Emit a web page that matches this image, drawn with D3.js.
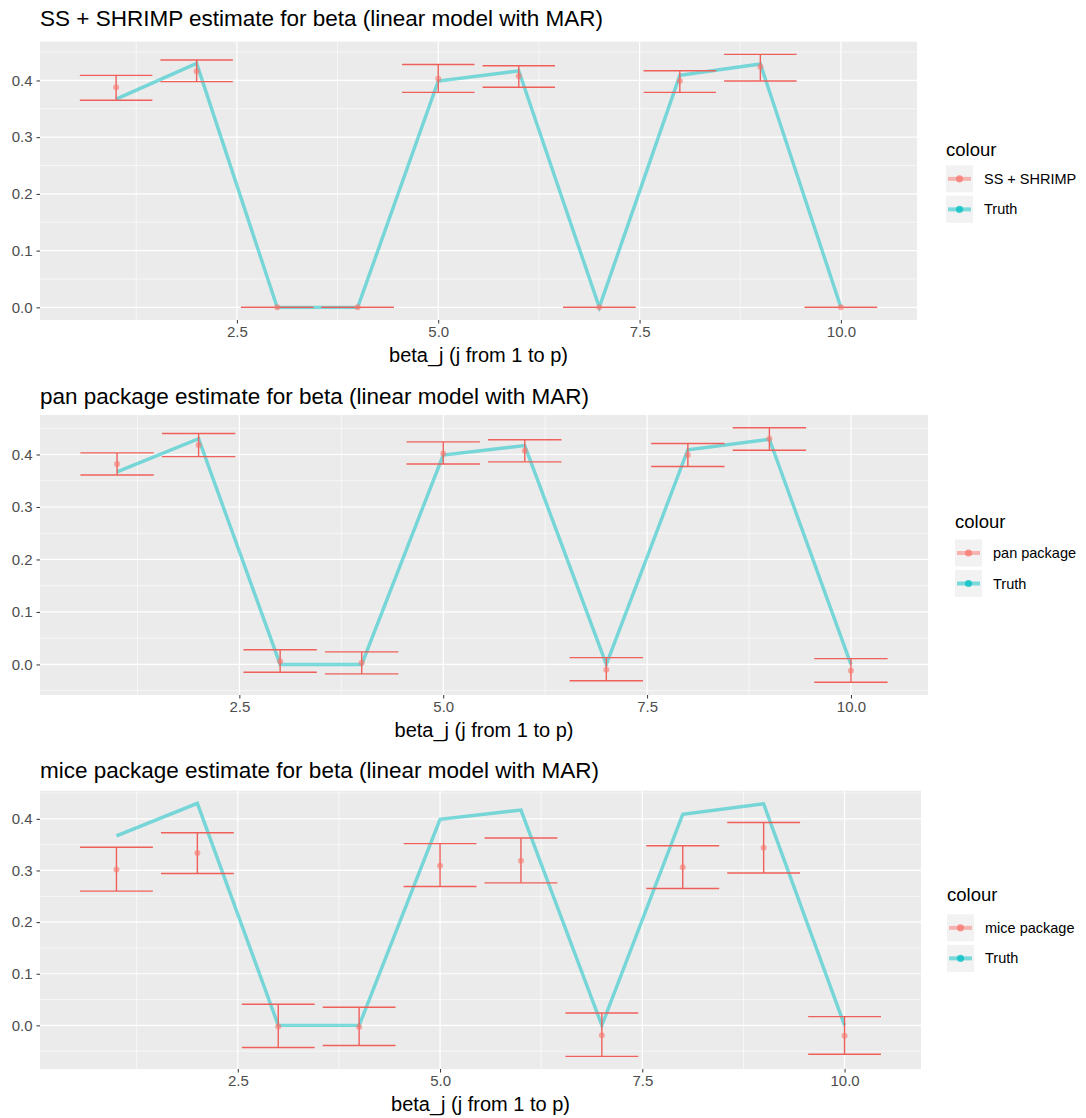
<!DOCTYPE html>
<html>
<head>
<meta charset="utf-8">
<script src="https://cdn.jsdelivr.net/npm/d3@7"></script>
<style>
  html, body { margin: 0; padding: 0; background: #fff; }
  svg { display: block; font-family: "Liberation Sans", Arial, sans-serif; }
</style>
</head>
<body>
<svg id="chart" width="1086" height="1118"></svg>
<script>
// Coefficient index j = 1..10
const betaIndex = [1, 2, 3, 4, 5, 6, 7, 8, 9, 10];

// True coefficient values
const truthBeta = [0.367, 0.430, 0, 0, 0.399, 0.417, 0, 0.409, 0.429, 0];

// SS + SHRIMP estimates and interval bounds
const shrimpEst   = [0.388, 0.416, 0, 0, 0.403, 0.408, 0, 0.399, 0.424, 0];
const shrimpLower = [0.365, 0.398, 0, 0, 0.379, 0.388, 0, 0.379, 0.399, 0];
const shrimpUpper = [0.409, 0.436, 0, 0, 0.428, 0.426, 0, 0.417, 0.446, 0];

// pan package estimates and interval bounds
const panEst   = [0.382, 0.418, 0.006, 0.003, 0.402, 0.407, -0.010, 0.399, 0.430, -0.012];
const panLower = [0.361, 0.396, -0.015, -0.018, 0.382, 0.386, -0.031, 0.377, 0.408, -0.034];
const panUpper = [0.403, 0.440, 0.028, 0.024, 0.424, 0.428, 0.013, 0.421, 0.451, 0.011];

// mice package estimates and interval bounds
const miceEst   = [0.302, 0.334, -0.002, -0.003, 0.309, 0.319, -0.019, 0.306, 0.344, -0.020];
const miceLower = [0.260, 0.294, -0.043, -0.039, 0.269, 0.276, -0.060, 0.265, 0.295, -0.056];
const miceUpper = [0.345, 0.373, 0.041, 0.035, 0.352, 0.363, 0.024, 0.348, 0.393, 0.017];

const xTicks = [2.5, 5.0, 7.5, 10.0];
const xMinor = [1.25, 3.75, 6.25, 8.75];
const yTicks = [0.0, 0.1, 0.2, 0.3, 0.4];

const panelTitles = [
  "SS + SHRIMP estimate for beta (linear model with MAR)",
  "pan package estimate for beta (linear model with MAR)",
  "mice package estimate for beta (linear model with MAR)"
];
const seriesNames = ["SS + SHRIMP", "pan package", "mice package"];
const xLabel = "beta_j (j from 1 to p)";
const legendTitle = "colour";

const estColor = "#F8766D";
const barColor = "#EF605B";
const truthColor = "#00BFC4";

const panels = [
  { est: shrimpEst, lo: shrimpLower, hi: shrimpUpper,
    box: { left: 40, right: 917, top: 41.7, bottom: 320 }, titleY: 26,
    leg: { x: 946, titleDy: -31 } },
  { est: panEst, lo: panLower, hi: panUpper,
    box: { left: 40, right: 928, top: 415, bottom: 695 }, titleY: 404,
    leg: { x: 955, titleDy: -34 } },
  { est: miceEst, lo: miceLower, hi: miceUpper,
    box: { left: 40, right: 921, top: 790.7, bottom: 1069 }, titleY: 778,
    leg: { x: 947, titleDy: -35 } }
];

const svg = d3.select("#chart");
const barHalf = 0.45;

// ggplot-style 5% expansion of a continuous range
function expand(lo, hi) {
  const pad = (hi - lo) * 0.05;
  return [lo - pad, hi + pad];
}

panels.forEach((p, i) => {
  const b = p.box;
  const g = svg.append("g");

  const xDom = expand(betaIndex[0] - barHalf, betaIndex[betaIndex.length - 1] + barHalf);
  const yLo = d3.min([...p.lo, ...truthBeta]);
  const yHi = d3.max([...p.hi, ...truthBeta]);
  const x = d3.scaleLinear().domain(xDom).range([b.left, b.right]);
  const y = d3.scaleLinear().domain(expand(yLo, yHi)).range([b.bottom, b.top]);

  // panel background
  g.append("rect")
    .attr("x", b.left).attr("y", b.top)
    .attr("width", b.right - b.left).attr("height", b.bottom - b.top)
    .attr("fill", "#EBEBEB");

  // minor grid
  const yMinor = d3.range(-0.05, 0.5, 0.1).map(v => +v.toFixed(2))
    .filter(v => v > y.domain()[0] && v < y.domain()[1]);
  g.selectAll(".ymin").data(yMinor).enter().append("line")
    .attr("x1", b.left).attr("x2", b.right)
    .attr("y1", d => y(d)).attr("y2", d => y(d))
    .attr("stroke", "#fff").attr("stroke-width", 0.6);
  g.selectAll(".xmin").data(xMinor).enter().append("line")
    .attr("y1", b.top).attr("y2", b.bottom)
    .attr("x1", d => x(d)).attr("x2", d => x(d))
    .attr("stroke", "#fff").attr("stroke-width", 0.6);

  // major grid
  g.selectAll(".ymaj").data(yTicks).enter().append("line")
    .attr("x1", b.left).attr("x2", b.right)
    .attr("y1", d => y(d)).attr("y2", d => y(d))
    .attr("stroke", "#fff").attr("stroke-width", 1.2);
  g.selectAll(".xmaj").data(xTicks).enter().append("line")
    .attr("y1", b.top).attr("y2", b.bottom)
    .attr("x1", d => x(d)).attr("x2", d => x(d))
    .attr("stroke", "#fff").attr("stroke-width", 1.2);

  // truth line
  const line = d3.line().x((d, k) => x(betaIndex[k])).y(d => y(d));
  g.append("path").datum(truthBeta)
    .attr("d", line)
    .attr("fill", "none")
    .attr("stroke", truthColor).attr("stroke-opacity", 0.5)
    .attr("stroke-width", 3.4).attr("stroke-linejoin", "miter");

  // error bars
  const eb = g.selectAll(".eb").data(betaIndex).enter().append("g");
  eb.append("line")
    .attr("x1", d => x(d)).attr("x2", d => x(d))
    .attr("y1", (d, k) => y(p.lo[k])).attr("y2", (d, k) => y(p.hi[k]));
  eb.append("line")
    .attr("x1", d => x(d - barHalf)).attr("x2", d => x(d + barHalf))
    .attr("y1", (d, k) => y(p.lo[k])).attr("y2", (d, k) => y(p.lo[k]));
  eb.append("line")
    .attr("x1", d => x(d - barHalf)).attr("x2", d => x(d + barHalf))
    .attr("y1", (d, k) => y(p.hi[k])).attr("y2", (d, k) => y(p.hi[k]));
  eb.selectAll("line").attr("stroke", barColor).attr("stroke-width", 1.4);

  // point estimates
  g.selectAll(".pt").data(betaIndex).enter().append("circle")
    .attr("cx", d => x(d)).attr("cy", (d, k) => y(p.est[k]))
    .attr("r", 3)
    .attr("fill", estColor).attr("fill-opacity", 0.6);

  // y axis
  const yAxis = d3.axisLeft(y).tickValues(yTicks).tickFormat(d3.format(".1f"))
    .tickSize(3.5).tickPadding(4);
  const ya = g.append("g").attr("transform", `translate(${b.left},0)`).call(yAxis);
  // x axis
  const xAxis = d3.axisBottom(x).tickValues(xTicks).tickFormat(d3.format(".1f"))
    .tickSize(3.5).tickPadding(3);
  const xa = g.append("g").attr("transform", `translate(0,${b.bottom})`).call(xAxis);
  [ya, xa].forEach(a => {
    a.select(".domain").remove();
    a.selectAll(".tick line").attr("stroke", "#333").attr("stroke-width", 1);
    a.selectAll(".tick text").attr("fill", "#4D4D4D")
      .style("font-size", "15px").style("font-family", "Liberation Sans, Arial, sans-serif");
  });

  // titles
  g.append("text").attr("x", b.left).attr("y", p.titleY)
    .text(panelTitles[i])
    .style("font-size", "22.5px").attr("fill", "#000");
  g.append("text").attr("x", (b.left + b.right) / 2).attr("y", b.bottom + 42)
    .attr("text-anchor", "middle")
    .text(xLabel)
    .style("font-size", "20px").attr("fill", "#000");

  // legend
  const midY = (b.top + b.bottom) / 2;
  const lg = g.append("g");
  lg.append("text").attr("x", p.leg.x).attr("y", midY + p.leg.titleDy + 6.5)
    .text(legendTitle).style("font-size", "18.5px").attr("fill", "#000");
  const keys = [
    { name: seriesNames[i], color: estColor, dy: -2 },
    { name: "Truth", color: truthColor, dy: 28.5 }
  ];
  keys.forEach(k => {
    const cy = midY + k.dy;
    const kx = p.leg.x;
    lg.append("rect").attr("x", kx).attr("y", cy - 13.5)
      .attr("width", 27).attr("height", 27).attr("fill", "#F2F2F2");
    lg.append("line").attr("x1", kx + 2).attr("x2", kx + 25)
      .attr("y1", cy).attr("y2", cy)
      .attr("stroke", k.color).attr("stroke-opacity", 0.5).attr("stroke-width", 4);
    lg.append("circle").attr("cx", kx + 13.5).attr("cy", cy).attr("r", 3.6)
      .attr("fill", k.color).attr("fill-opacity", 0.75);
    lg.append("text").attr("x", kx + 38).attr("y", cy + 5)
      .text(k.name).style("font-size", "14.5px").attr("fill", "#000");
  });
});
</script>
</body>
</html>
